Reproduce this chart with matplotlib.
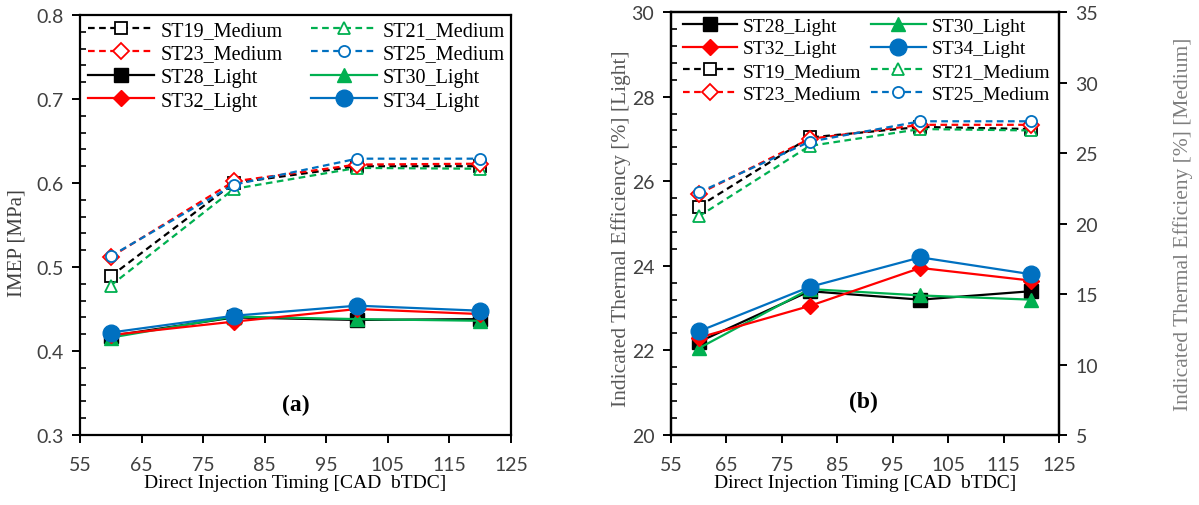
import matplotlib
matplotlib.use("Agg")
import matplotlib.pyplot as plt
from matplotlib.ticker import MultipleLocator

# ------------------------------------------------------------
# Data
# ------------------------------------------------------------
timing = [60, 80, 100, 120]

# IMEP [MPa]
imep_st19_medium = [0.489, 0.600, 0.620, 0.620]
imep_st21_medium = [0.478, 0.593, 0.618, 0.617]
imep_st23_medium = [0.512, 0.602, 0.622, 0.623]
imep_st25_medium = [0.513, 0.598, 0.629, 0.629]
imep_st28_light = [0.418, 0.440, 0.437, 0.438]
imep_st30_light = [0.416, 0.441, 0.438, 0.436]
imep_st32_light = [0.419, 0.435, 0.450, 0.444]
imep_st34_light = [0.422, 0.442, 0.454, 0.448]

# Indicated thermal efficiency [%]
ite_st28_light = [22.20, 23.40, 23.20, 23.40]
ite_st30_light = [22.05, 23.45, 23.30, 23.20]
ite_st32_light = [22.30, 23.05, 23.95, 23.65]
ite_st34_light = [22.45, 23.50, 24.20, 23.80]
ite_st19_medium = [21.2, 26.1, 26.85, 26.7]
ite_st21_medium = [20.5, 25.5, 26.7, 26.6]
ite_st23_medium = [22.1, 26.0, 27.0, 27.0]
ite_st25_medium = [22.2, 25.8, 27.25, 27.25]

x_ticks = [55, 65, 75, 85, 95, 105, 115, 125]

BLACK = "#000000"
GREEN = "#00B050"
RED = "#FF0000"
BLUE = "#0070C0"
TEXT_GRAY = "#404040"

SERIF = "Liberation Serif"
SANS = "Lato"

plt.rcParams["font.family"] = SERIF


def light(ax, y, color, marker, label, ms):
    return ax.plot(timing, y, color=color, lw=1.6, marker=marker, ms=ms,
                   mfc=color, mec=color, label=label)[0]


def medium(ax, y, color, marker, label):
    return ax.plot(timing, y, color=color, lw=1.6, ls=(0, (3, 2)), marker=marker,
                   ms=8, mfc="white", mec=color, mew=1.3, label=label)[0]


def style_axis(ax):
    for s in ax.spines.values():
        s.set_linewidth(1.6)
    ax.tick_params(axis="both", which="major", direction="out", length=6, width=1.4,
                   labelsize=14, labelcolor=TEXT_GRAY, pad=6)
    ax.tick_params(axis="x", which="major", pad=9)
    ax.tick_params(axis="y", which="minor", direction="in", length=4, width=1.2)
    for lab in ax.get_xticklabels() + ax.get_yticklabels():
        lab.set_fontfamily(SANS)


fig = plt.figure(figsize=(11.99, 5.06), dpi=100)

# ------------------------------------------------------------
# (a) IMEP
# ------------------------------------------------------------
ax1 = fig.add_axes([0.0667, 0.1383, 0.3595, 0.830])
h19 = medium(ax1, imep_st19_medium, BLACK, "s", "ST19_Medium")
h21 = medium(ax1, imep_st21_medium, GREEN, "^", "ST21_Medium")
h23 = medium(ax1, imep_st23_medium, RED, "D", "ST23_Medium")
h25 = medium(ax1, imep_st25_medium, BLUE, "o", "ST25_Medium")
h28 = light(ax1, imep_st28_light, BLACK, "s", "ST28_Light", 10)
h30 = light(ax1, imep_st30_light, GREEN, "^", "ST30_Light", 10)
h32 = light(ax1, imep_st32_light, RED, "D", "ST32_Light", 8)
h34 = light(ax1, imep_st34_light, BLUE, "o", "ST34_Light", 12)

ax1.set_xlim(55, 125)
ax1.set_ylim(0.3, 0.8)
ax1.set_xticks(x_ticks)
ax1.yaxis.set_major_locator(MultipleLocator(0.1))
ax1.yaxis.set_minor_locator(MultipleLocator(0.02))
ax1.yaxis.set_major_formatter(plt.FuncFormatter(lambda v, p: f"{v:.1f}"))
style_axis(ax1)
ax1.set_xlabel("Direct Injection Timing [CAD  bTDC]", fontsize=14, labelpad=1)
ax1.set_ylabel("IMEP [MPa]", fontsize=15, color=TEXT_GRAY)
ax1.yaxis.set_label_coords(-0.123, 0.46)
ax1.text(90, 0.336, "(a)", fontsize=17, fontweight="bold", ha="center", va="center")

order_a = [h19, h23, h28, h32, h21, h25, h30, h34]
ax1.legend(order_a, [h.get_label() for h in order_a], ncol=2, loc="upper left",
           bbox_to_anchor=(-0.01, 1.015), frameon=False, fontsize=14.5,
           handlelength=3.3, columnspacing=1.4, labelspacing=0.22, handletextpad=0.3,
           borderaxespad=0.2)

# ------------------------------------------------------------
# (b) Indicated thermal efficiency
# ------------------------------------------------------------
ax2 = fig.add_axes([0.5596, 0.1383, 0.3236, 0.836])
ax3 = ax2.twinx()

g19 = medium(ax3, ite_st19_medium, BLACK, "s", "ST19_Medium")
g21 = medium(ax3, ite_st21_medium, GREEN, "^", "ST21_Medium")
g23 = medium(ax3, ite_st23_medium, RED, "D", "ST23_Medium")
g25 = medium(ax3, ite_st25_medium, BLUE, "o", "ST25_Medium")
g28 = light(ax2, ite_st28_light, BLACK, "s", "ST28_Light", 10)
g30 = light(ax2, ite_st30_light, GREEN, "^", "ST30_Light", 10)
g32 = light(ax2, ite_st32_light, RED, "D", "ST32_Light", 8)
g34 = light(ax2, ite_st34_light, BLUE, "o", "ST34_Light", 12)

ax2.set_xlim(55, 125)
ax2.set_ylim(20, 30)
ax3.set_ylim(5, 35)
ax2.set_xticks(x_ticks)
ax2.yaxis.set_major_locator(MultipleLocator(2))
ax2.yaxis.set_minor_locator(MultipleLocator(0.4))
ax3.yaxis.set_major_locator(MultipleLocator(5))
style_axis(ax2)
style_axis(ax3)
ax3.tick_params(axis="y", which="minor", length=0)
ax2.set_xlabel("Direct Injection Timing [CAD  bTDC]", fontsize=14, labelpad=1)
ax2.set_ylabel("Indicated Thermal Efficiency [%] [Light]", fontsize=15.5,
               color="#595959")
ax2.yaxis.set_label_coords(-0.103, 0.49)
ax3.set_ylabel("Indicated Thermal Efficieny [%] [Medium]", fontsize=15.5,
               color="#7f7f7f")
ax3.yaxis.set_label_coords(1.295, 0.5)
ax2.text(89.8, 20.8, "(b)", fontsize=17, fontweight="bold", ha="center", va="center")

order_b = [g28, g32, g19, g23, g30, g34, g21, g25]
ax3.legend(order_b, [h.get_label() for h in order_b], ncol=2, loc="upper left",
           bbox_to_anchor=(0.0, 1.015), frameon=False, fontsize=14,
           handlelength=2.8, columnspacing=0.5, labelspacing=0.25, handletextpad=0.3,
           borderaxespad=0.2)

fig.savefig("out.png", dpi=100)
